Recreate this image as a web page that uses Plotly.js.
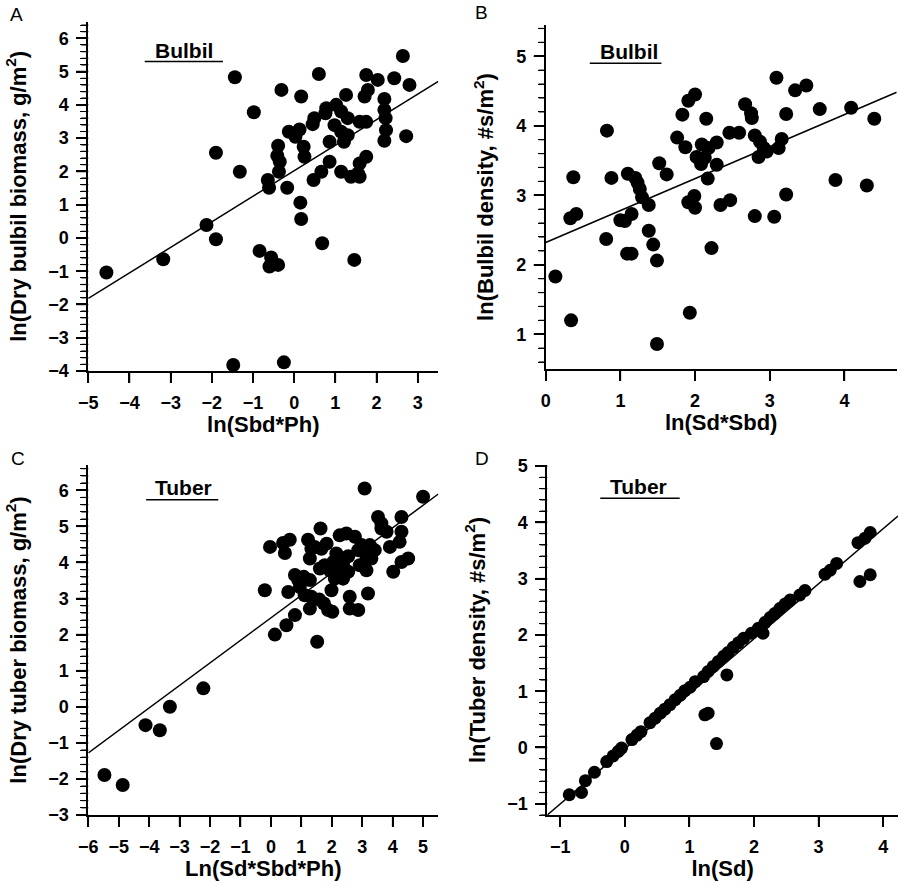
<!DOCTYPE html>
<html>
<head>
<meta charset="utf-8">
<script src="https://cdn.plot.ly/plotly-3.0.1.min.js"></script>
<style>
  html, body { margin: 0; padding: 0; background: #fff; }
  #chart { width: 898px; height: 886px; }
</style>
</head>
<body>
<div id="chart"></div>
<script>
/* ── Data ─────────────────────────────────────────────────── */

// A: ln(Sbd*Ph) vs ln(dry bulbil biomass)
const aX = [-4.56,-3.18,-2.13,-1.90,-1.90,-1.44,-1.48,-1.32,-0.98,-0.84,
            -0.56,-0.60,-0.39,-0.64,-0.61,-0.39,-0.41,-0.35,-0.37,-0.31,
            -0.25,-0.17,-0.13,0.03,0.13,0.15,0.17,0.17,0.23,0.25,
            0.45,0.49,0.47,0.60,0.66,0.68,0.76,0.78,0.86,0.86,
            0.98,1.02,1.14,1.14,1.14,1.21,1.26,1.30,1.30,1.38,
            1.46,1.55,1.59,1.59,1.59,1.71,1.75,1.75,1.75,1.79,
            2.03,2.19,2.19,2.22,2.23,2.19,2.43,2.64,2.72,2.80];
const aY = [-1.04,-0.64,0.39,-0.04,2.56,4.83,-3.82,1.99,3.78,-0.39,
            -0.59,-0.86,-0.81,1.74,1.51,2.77,2.47,2.29,1.99,4.45,
            -3.74,1.51,3.19,3.04,3.26,1.06,0.57,4.25,2.74,2.44,
            3.42,3.60,1.74,4.93,1.99,-0.16,3.75,3.90,2.29,2.89,
            3.39,4.00,3.80,3.19,1.99,2.89,4.30,3.60,3.09,1.84,
            -0.66,1.94,2.24,1.84,3.49,4.25,4.90,3.49,2.44,4.45,
            4.75,4.18,3.85,3.60,3.24,2.92,4.80,5.47,3.06,4.60];

// B: ln(Sd*Sbd) vs ln(bulbil density)
const bX = [0.13,0.34,0.33,0.37,0.41,0.82,0.81,0.88,1.00,1.06,
            1.10,1.09,1.15,1.15,1.20,1.23,1.26,1.29,1.38,1.38,
            1.44,1.49,1.49,1.52,1.62,1.76,1.83,1.87,1.91,2.00,
            1.91,1.93,1.99,2.00,2.02,2.08,2.09,2.13,2.15,2.17,
            2.18,2.22,2.29,2.29,2.34,2.47,2.46,2.59,2.67,2.75,
            2.76,2.80,2.80,2.85,2.87,2.92,2.96,3.06,3.09,3.12,
            3.16,3.22,3.22,3.34,3.49,3.67,3.88,4.09,4.30,4.40];
const bY = [1.83,1.20,2.67,3.26,2.73,3.93,2.37,3.25,2.64,2.63,
            3.31,2.16,2.16,2.73,3.25,3.18,3.09,2.97,2.86,2.49,
            2.29,2.06,0.86,3.46,3.30,3.83,4.16,3.69,4.36,4.45,
            2.90,1.31,2.99,2.82,3.55,3.45,3.73,3.54,4.10,3.24,
            3.68,2.24,3.44,3.76,2.86,2.93,3.90,3.90,4.31,4.18,
            4.11,2.70,3.86,3.55,3.77,3.68,3.63,2.69,4.69,3.68,
            3.81,3.01,4.17,4.51,4.58,4.24,3.22,4.26,3.14,4.10];

// C: Ln(Sd*Sbd*Ph) vs ln(dry tuber biomass)
const cX = [-5.47,-4.87,-4.12,-3.65,-3.32,-2.22,-0.20,-0.03,0.13,0.40,
            0.46,0.51,0.62,0.57,0.79,0.79,0.90,0.95,1.08,1.11,
            1.22,1.28,1.28,1.33,1.28,1.33,1.44,1.52,1.59,1.63,
            1.66,1.61,1.74,1.77,1.83,1.88,2.02,1.99,1.94,2.05,
            2.10,2.15,2.21,2.26,2.32,2.37,2.37,2.43,2.26,2.48,
            2.54,2.54,2.59,2.59,2.76,2.87,2.87,2.92,2.98,3.08,
            3.14,3.14,3.19,3.30,3.25,3.41,3.52,3.63,3.63,3.80,
            3.91,4.02,4.29,4.29,4.23,4.29,4.51,5.00];
const cY = [-1.89,-2.17,-0.51,-0.65,0.00,0.51,3.23,4.43,2.00,4.54,
            4.26,2.26,4.63,3.18,2.54,3.65,3.51,3.32,3.60,3.09,
            4.63,3.51,4.11,3.05,2.72,4.38,4.43,1.80,2.97,4.94,
            4.38,3.83,2.86,3.92,4.52,2.68,2.63,3.23,3.78,4.01,
            3.55,4.25,3.88,3.69,4.11,3.92,3.55,3.78,4.75,4.80,
            3.74,4.17,3.05,2.72,4.71,2.68,4.34,3.92,4.48,6.05,
            3.78,4.15,3.14,4.11,4.48,4.34,5.26,5.08,4.94,4.85,
            4.43,3.74,5.26,4.85,4.57,4.01,4.11,5.82];

// D: ln(Sd) vs ln(tuber density)
const dX = [-0.86,-0.67,-0.61,-0.47,-0.28,-0.18,-0.10,-0.05,0.11,0.19,
            0.25,0.39,0.47,0.55,0.62,0.70,0.78,0.86,0.93,1.01,
            1.09,1.22,1.29,1.37,1.45,1.53,1.60,1.68,1.76,1.84,
            1.96,2.07,2.17,2.25,2.32,2.40,2.48,2.56,2.71,2.79,
            3.10,3.18,3.28,3.61,3.72,3.80,
            2.14,1.58,1.24,1.29,1.42,3.64,3.80];
const dY = [-0.84,-0.80,-0.59,-0.44,-0.25,-0.15,-0.07,-0.01,0.14,0.22,
            0.28,0.44,0.52,0.61,0.68,0.76,0.85,0.93,1.01,1.07,
            1.17,1.26,1.35,1.44,1.53,1.62,1.69,1.78,1.86,1.94,
            2.03,2.12,2.22,2.31,2.38,2.47,2.55,2.62,2.71,2.79,
            3.08,3.15,3.27,3.64,3.72,3.82,
            2.03,1.29,0.58,0.61,0.07,2.95,3.07];

// fitted regression lines (A, B, C, D)
const fitSlope     = [0.768, 0.460, 0.624, 0.978];
const fitIntercept = [2.02, 2.32, 2.464, -0.025];

const panelLetters = ['A', 'B', 'C', 'D'];
const groupLabels  = ['Bulbil', 'Bulbil', 'Tuber', 'Tuber'];
const xTitles = ['ln(Sbd*Ph)', 'ln(Sd*Sbd)', 'Ln(Sd*Sbd*Ph)', 'ln(Sd)'];
const yTitles = ['ln(Dry bulbil biomass, g/m<sup>2</sup>)',
                 'ln(Bulbil density, #s/m<sup>2</sup>)',
                 'ln(Dry tuber biomass, g/m<sup>2</sup>)',
                 'ln(Tuber density, #s/m<sup>2</sup>)'];

/* ── Panel geometry (pixels in the 898×886 frame) ─────────── */
const W = 898, H = 886;
const PANELS = [
  { xs: [88.3, 438.3],  ys: [21.7, 371], xr: [-5, 3.5],     yr: [-4, 6.5],    letter: [16.5, 14.5],
    label: [-2.68, 5.62], under: [[-3.63, -1.73], 5.30], size: 14 },
  { xs: [545.7, 896.7], ys: [25, 369],   xr: [0, 4.7],      yr: [0.5, 5.45],  letter: [481.5, 12],
    label: [1.11, 5.07],  under: [[0.59, 1.55], 4.90],   size: 14 },
  { xs: [88.3, 438.3],  ys: [465, 815],  xr: [-6, 5.5],     yr: [-3, 6.7],    letter: [17.5, 459],
    label: [-2.86, 6.07], under: [[-4.10, -1.73], 5.74], size: 14 },
  { xs: [547.3, 898],   ys: [465, 815],  xr: [-1.2, 4.23],  yr: [-1.2, 5.02], letter: [481.5, 459],
    label: [0.21, 4.64],  under: [[-0.38, 0.85], 4.43],  size: 13 },
];
const series = [[aX, aY], [bX, bY], [cX, cY], [dX, dY]];

const FONT = 'Arial, "Liberation Sans", Helvetica, sans-serif';

const AXIS = {
  showline: true, linecolor: '#000', linewidth: 1.8, mirror: false,
  ticks: 'outside', ticklen: 10, tickwidth: 1.5, tickcolor: '#000',
  showgrid: false, zeroline: false, dtick: 1, tick0: 0,
  tickfont: { family: FONT, size: 18, weight: 'bold', color: '#000' },
  ticklabelstandoff: 4,
  fixedrange: true,
};
const MINOR = { dtick: 0.2, tick0: 0, ticks: 'outside', ticklen: 6, tickwidth: 1.2,
                tickcolor: '#000', showgrid: false };
const TITLE_FONT = { family: FONT, size: 22, weight: 'bold', color: '#000' };

/* ── Tick helpers ─────────────────────────────────────────── */
// tick marks are also laid down as pixel-sized shapes anchored to the axes,
// so they show even where the axis' own tick paths do not get painted
function xTickShapes(xa, ya, range) {
  const out = [];
  for (let v = Math.ceil(range[0]); v <= range[1]; v++) {
    out.push({
      type: 'line', layer: 'above',
      xref: xa, yref: ya + ' domain', ysizemode: 'pixel', yanchor: 0,
      x0: v, x1: v, y0: 0, y1: -12,
      line: { color: '#000', width: 1.5 },
    });
  }
  return out;
}

function yTickShapes(xa, ya, range) {
  const out = [];
  for (let k = Math.ceil(range[0] * 5); k <= Math.floor(range[1] * 5); k++) {
    const major = k % 5 === 0;
    out.push({
      type: 'line', layer: 'above',
      xref: xa + ' domain', yref: ya, xsizemode: 'pixel', xanchor: 0,
      x0: 0, x1: major ? -12 : -7, y0: k / 5, y1: k / 5,
      line: { color: '#000', width: major ? 1.5 : 1.2 },
    });
  }
  return out;
}

/* ── Build traces and layout ──────────────────────────────── */
const traces = [];
const layout = {
  width: W, height: H,
  margin: { l: 0, r: 0, t: 0, b: 0 },
  paper_bgcolor: '#fff', plot_bgcolor: 'rgba(0,0,0,0)',
  showlegend: false,
  annotations: [], shapes: [],
};

PANELS.forEach((p, i) => {
  const n = i === 0 ? '' : String(i + 1);
  const xa = 'x' + n, ya = 'y' + n;
  const [xs, ys] = series[i];

  traces.push({
    x: xs, y: ys, xaxis: xa, yaxis: ya,
    type: 'scatter', mode: 'markers',
    marker: { color: '#000', size: p.size, line: { width: 0 } },
    hoverinfo: 'x+y',
  });

  // regression line across the full x range
  const lx = p.xr.slice();
  traces.push({
    x: lx, y: lx.map(v => fitSlope[i] * v + fitIntercept[i]),
    xaxis: xa, yaxis: ya,
    type: 'scatter', mode: 'lines',
    line: { color: '#000', width: 1.5 },
    hoverinfo: 'skip',
  });

  layout['xaxis' + n] = {
    ...AXIS,
    domain: [p.xs[0] / W, Math.min(1, p.xs[1] / W)],
    range: p.xr, anchor: ya,
    title: { text: xTitles[i], font: TITLE_FONT, standoff: 2 },
  };
  layout['yaxis' + n] = {
    ...AXIS,
    domain: [1 - p.ys[1] / H, 1 - p.ys[0] / H],
    range: p.yr, anchor: xa,
    minor: { ...MINOR },
    title: { text: yTitles[i], font: TITLE_FONT, standoff: 16 },
  };

  layout.shapes.push(...xTickShapes(xa, ya, p.xr), ...yTickShapes(xa, ya, p.yr));

  // panel letter
  layout.annotations.push({
    xref: 'paper', yref: 'paper',
    x: p.letter[0] / W, y: 1 - p.letter[1] / H,
    xanchor: 'center', yanchor: 'middle',
    text: panelLetters[i], showarrow: false,
    font: { family: FONT, size: 19, color: '#000' },
  });

  // group label with underline
  layout.annotations.push({
    xref: xa, yref: ya, x: p.label[0], y: p.label[1],
    xanchor: 'center', yanchor: 'middle',
    text: groupLabels[i], showarrow: false,
    font: { family: FONT, size: 21, weight: 'bold', color: '#000' },
  });
  layout.shapes.push({
    type: 'line', xref: xa, yref: ya,
    x0: p.under[0][0], x1: p.under[0][1], y0: p.under[1], y1: p.under[1],
    line: { color: '#000', width: 1.5 },
  });
});

Plotly.newPlot('chart', traces, layout, { displayModeBar: false, responsive: false });
</script>
</body>
</html>
